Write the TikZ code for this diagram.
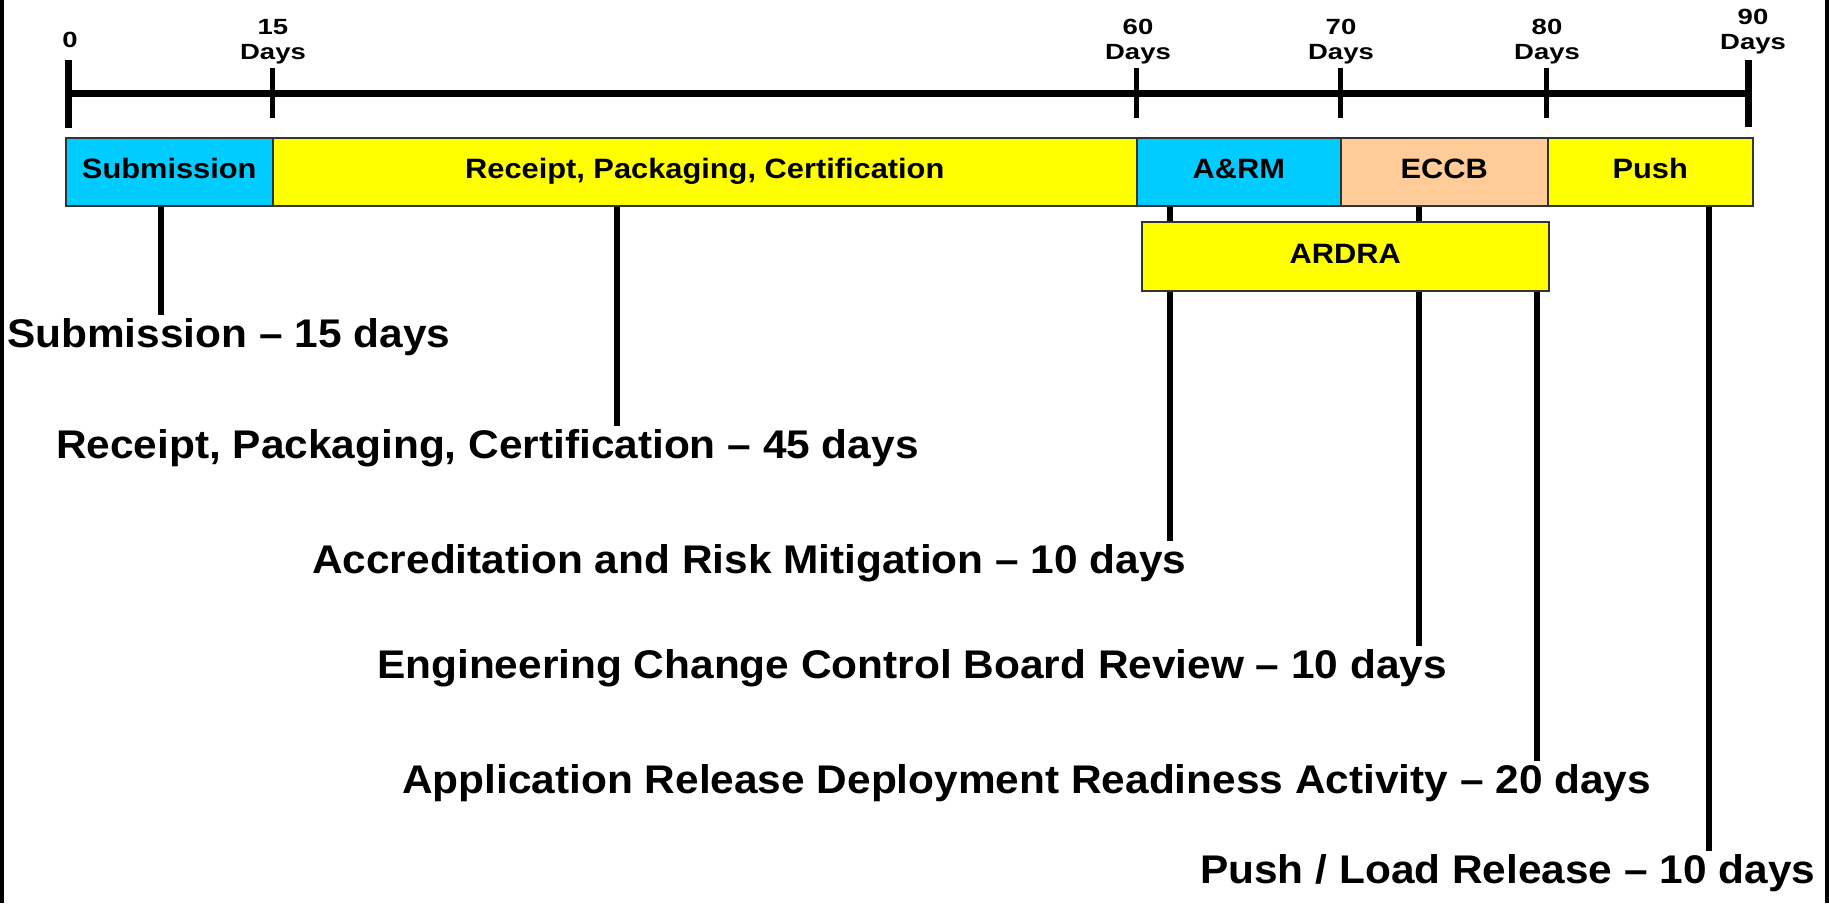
\documentclass[tikz,border=0pt]{standalone}
\usepackage{fontspec}
\newfontfamily\labfont{Liberation Sans}[FakeStretch=1.06]
\newfontfamily\barfont{Liberation Sans}[FakeStretch=1.1]
\newfontfamily\tickfont{Liberation Sans}[FakeStretch=1.25]
\definecolor{barcyan}{HTML}{00CCFF}
\definecolor{baryellow}{HTML}{FFFF00}
\definecolor{barpeach}{HTML}{FFCC99}
\definecolor{barline}{HTML}{333333}
\begin{document}
\begin{tikzpicture}[x=1pt,y=-1pt,
  bar/.style={draw=barline,line width=1.5pt,minimum height=68pt,anchor=north west,inner sep=0pt,
    text height=20pt,text depth=6pt,
    font=\barfont\bfseries\fontsize{28}{32}\selectfont},
  ticklab/.style={align=center,inner sep=0pt,font=\tickfont\bfseries\fontsize{22}{25}\selectfont},
  lab/.style={anchor=base west,inner sep=3pt,font=\labfont\bfseries\fontsize{40}{48}\selectfont},
  conn/.style={line width=5.5pt},
  midtick/.style={line width=5pt},
  endtick/.style={line width=7pt}]
\useasboundingbox (0,0) rectangle (1829,903);
% side borders
\draw[line width=3.5pt] (1.75,0) -- (1.75,903);
\draw[line width=3.5pt] (1827,0) -- (1827,903);
% timeline
\draw[line width=7pt] (68,93) -- (1748,93);
\draw[endtick] (68,60) -- (68,128);
\draw[midtick] (272,68) -- (272,118);
\draw[midtick] (1136,68) -- (1136,118);
\draw[midtick] (1340,68) -- (1340,118);
\draw[midtick] (1546,68) -- (1546,118);
\draw[endtick] (1748,60) -- (1748,127);
\node[ticklab] (t0) at (70,39.5) {0};
\node[ticklab] (t15) at (273,41.7) {15\\Days};
\node[ticklab] (t60) at (1138,41.7) {60\\Days};
\node[ticklab] (t70) at (1341,41.7) {70\\Days};
\node[ticklab] (t80) at (1547,41.7) {80\\Days};
\node[ticklab] (t90) at (1753,31.7) {90\\Days};
% bars
\node[bar,fill=barcyan,minimum width=207pt] (sub) at (65,137) {Submission};
\node[bar,fill=baryellow,minimum width=864pt] (rec) at (272,137) {Receipt, Packaging, Certification};
\node[bar,fill=barcyan,minimum width=204pt] (arm) at (1136,137) {A\&RM};
\node[bar,fill=barpeach,minimum width=207pt] (eccb) at (1340,137) {ECCB};
\node[bar,fill=baryellow,minimum width=205pt] (push) at (1547,137) {Push};
% labels
\node[lab] (l1) at (4,347) {Submission – 15 days};
\node[lab] (l2) at (53,458) {Receipt, Packaging, Certification – 45 days};
\node[lab] (l3) at (309,573) {Accreditation and Risk Mitigation – 10 days};
\node[lab] (l4) at (374,678) {Engineering Change Control Board Review – 10 days};
\node[lab] (l5) at (399,793) {Application Release Deployment Readiness Activity – 20 days};
\node[lab] (l6) at (1197,883) {Push / Load Release – 10 days};
% connector x positions
\coordinate (xsub) at (161,0);
\coordinate (xrec) at (617,0);
\coordinate (xarm) at (1170,0);
\coordinate (xeccb) at (1419,0);
\coordinate (xardra) at (1537,0);
\coordinate (xpush) at (1709,0);
\draw[conn] (sub.south -| xsub) -- (l1.north -| xsub);
\draw[conn] (rec.south -| xrec) -- (l2.north -| xrec);
\draw[conn] (arm.south -| xarm) -- (l3.north -| xarm);
\draw[conn] (eccb.south -| xeccb) -- (l4.north -| xeccb);
% ARDRA box above the connectors
\node[bar,fill=baryellow,minimum width=407pt,minimum height=69pt] (ardra) at (1141,221) {ARDRA};
\draw[conn] (ardra.south -| xardra) -- (l5.north -| xardra);
\draw[conn] (push.south -| xpush) -- (l6.north -| xpush);
\end{tikzpicture}
\end{document}
